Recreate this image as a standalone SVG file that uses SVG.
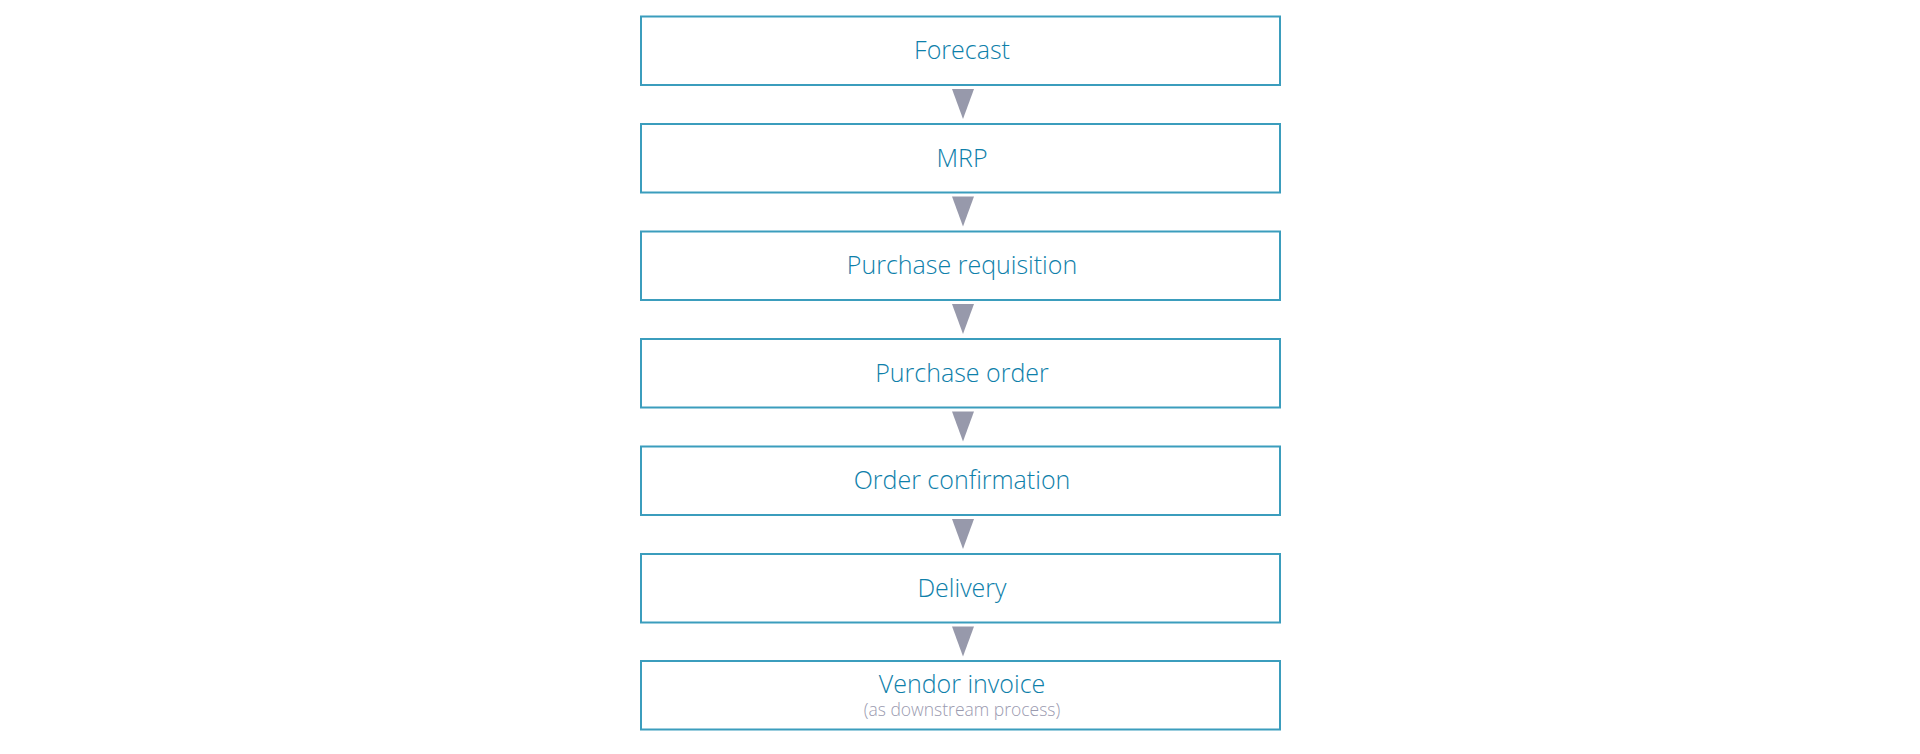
<svg xmlns="http://www.w3.org/2000/svg" width="1920" height="754" viewBox="0 0 1920 754">
<style>
.box{fill:#ffffff;stroke:#3b9dbd;stroke-width:2}
.lbl{font-family:"Open Sans","Liberation Sans",sans-serif;font-weight:300;font-size:25px;fill:#0e80aa;text-anchor:middle}
.sub{font-family:"Open Sans","Liberation Sans",sans-serif;font-weight:300;font-size:17.5px;fill:#9a9aaf;text-anchor:middle}
.arr{fill:#9799ab}
</style>
<rect width="1920" height="754" fill="#ffffff"/>
<g id="connectors">
<polygon class="arr" points="952,89 974,89 963,119"/>
<polygon class="arr" points="952,196.5 974,196.5 963,226.5"/>
<polygon class="arr" points="952,304 974,304 963,334"/>
<polygon class="arr" points="952,411.5 974,411.5 963,441.5"/>
<polygon class="arr" points="952,519 974,519 963,549"/>
<polygon class="arr" points="952,626.5 974,626.5 963,656.5"/>
</g>
<g id="forecast"><rect class="box" x="641" y="16.5" width="639" height="68.5"/><text class="lbl" x="962" y="59">Forecast</text></g>
<g id="mrp"><rect class="box" x="641" y="124" width="639" height="68.5"/><text class="lbl" x="962" y="166.5">MRP</text></g>
<g id="purchase-requisition"><rect class="box" x="641" y="231.5" width="639" height="68.5"/><text class="lbl" x="962" y="274">Purchase requisition</text></g>
<g id="purchase-order"><rect class="box" x="641" y="339" width="639" height="68.5"/><text class="lbl" x="962" y="381.5">Purchase order</text></g>
<g id="order-confirmation"><rect class="box" x="641" y="446.5" width="639" height="68.5"/><text class="lbl" x="962" y="489">Order confirmation</text></g>
<g id="delivery"><rect class="box" x="641" y="554" width="639" height="68.5"/><text class="lbl" x="962" y="596.5">Delivery</text></g>
<g id="vendor-invoice"><rect class="box" x="641" y="661" width="639" height="68.5"/><text class="lbl" x="962" y="693">Vendor invoice</text><text class="sub" x="962" y="716">(as downstream process)</text></g>
</svg>
